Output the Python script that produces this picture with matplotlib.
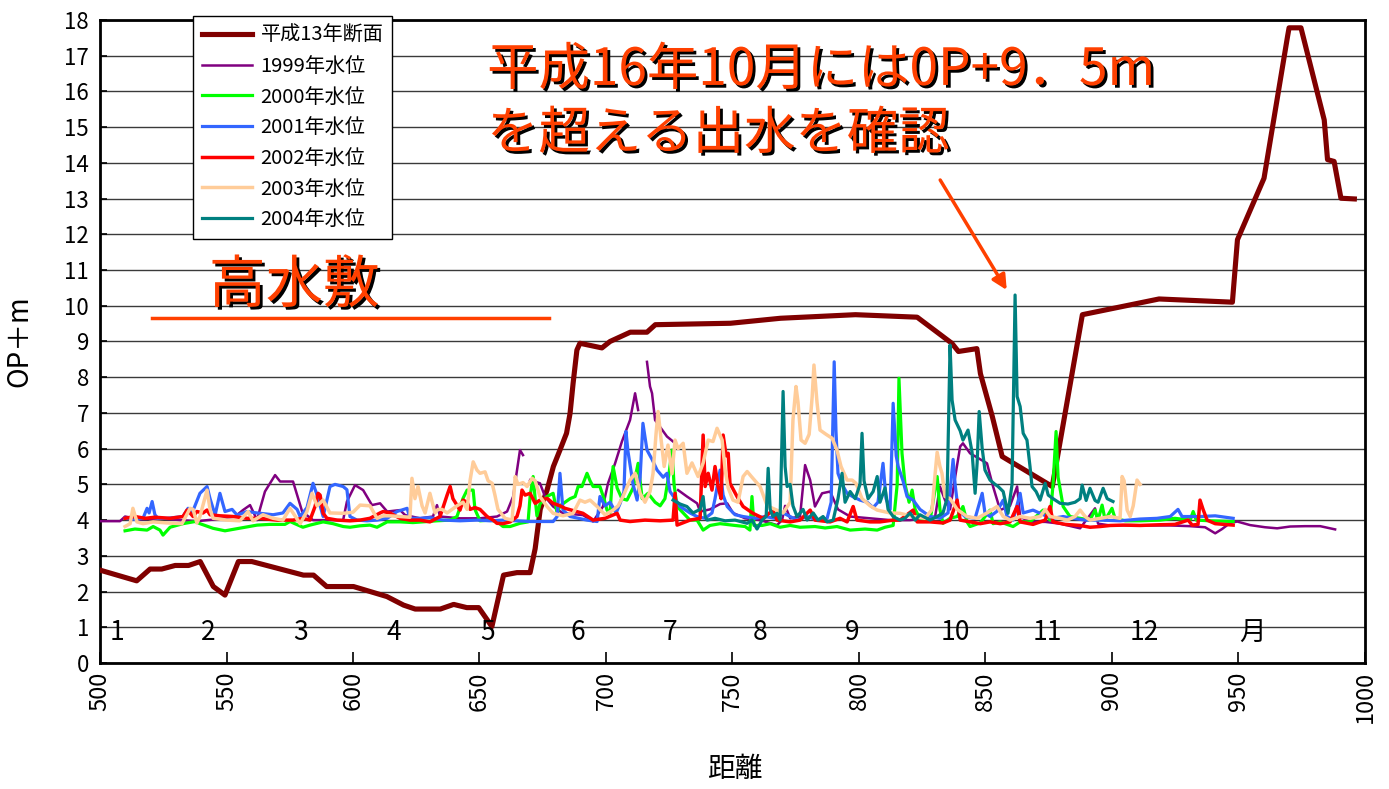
import numpy as np
import matplotlib
matplotlib.use('Agg')
import matplotlib.pyplot as plt
import matplotlib.patheffects as pe

plt.rcParams['font.family'] = ['Noto Sans CJK JP', 'DejaVu Sans']

nan = np.nan

# 平成13年断面 (distance, OP+m)
section = [(500.0, 2.6), (514.5, 2.3), (519.8, 2.63), (524.4, 2.63), (529.7, 2.73), (535.0, 2.73),
           (539.6, 2.84), (544.8, 2.14), (549.4, 1.9), (554.7, 2.84), (560.0, 2.84), (580.4, 2.46),
           (584.4, 2.46), (589.6, 2.14), (600.2, 2.14), (613.4, 1.86), (620.0, 1.62), (624.6, 1.51),
           (634.5, 1.51), (639.8, 1.64), (645.0, 1.55), (649.7, 1.55), (654.9, 1.02), (659.5, 2.46),
           (664.8, 2.53), (670.0, 2.53), (672.0, 3.2), (674.0, 4.3), (676.7, 4.84), (679.2, 5.5),
           (681.8, 5.96), (684.4, 6.43), (685.8, 6.99), (687.0, 7.83), (688.5, 8.76), (689.7, 8.95),
           (698.4, 8.82), (701.6, 9.0), (709.6, 9.26), (716.2, 9.26), (719.5, 9.47), (749.2, 9.51),
           (769.0, 9.65), (798.6, 9.75), (823.0, 9.68), (836.7, 8.95), (839.3, 8.72), (846.6, 8.8),
           (848.0, 8.1), (852.7, 6.9), (856.6, 5.78), (873.1, 5.08), (876.4, 4.94), (888.3, 9.75),
           (918.6, 10.19), (947.6, 10.1), (949.6, 11.85), (960.1, 13.57), (969.4, 17.54), (970.0, 17.78),
           (974.7, 17.78), (983.9, 15.2), (985.2, 14.09), (987.8, 14.04), (990.5, 13.01), (995.8, 12.99)]

wl_1999 = [(500.0, 3.97), (507.9, 3.97), (509.9, 4.1), (515.8, 4.02), (523.7, 4.05), (531.6, 4.0),
           (538.3, 3.97), (545.5, 4.02), (553.4, 4.1), (556.5, 4.28), (559.3, 4.42), (562.1, 4.0),
           (563.2, 4.3), (565.2, 4.8), (569.2, 5.26), (571.2, 5.08), (576.3, 5.08), (579.9, 4.24),
           (584.2, 4.0), (590.9, 4.0), (596.1, 4.0), (597.6, 4.52), (600.8, 4.98), (604.0, 4.84),
           (607.5, 4.42), (610.7, 4.47), (613.5, 4.24), (618.6, 4.28), (620.6, 4.14), (626.5, 4.05),
           (631.6, 4.1), (633.2, 4.42), (634.4, 4.1), (642.3, 4.05), (650.2, 4.05), (656.9, 4.1),
           (660.9, 4.24), (663.3, 4.66), (666.0, 5.96), (667.2, 5.82), (nan, nan),
           (670.0, 5.12), (673.9, 5.03), (675.9, 4.66), (679.1, 4.38), (683.0, 4.19), (690.9, 4.14),
           (694.9, 3.96), (698.8, 4.38), (700.8, 5.03), (703.6, 5.59), (706.3, 6.2), (709.5, 6.8),
           (711.5, 7.55), (712.7, 7.08), (nan, nan),
           (716.2, 8.43), (717.4, 7.74), (718.2, 7.55), (719.4, 6.8), (724.1, 6.34), (726.5, 6.2), (nan, nan),
           (728.5, 4.84), (732.0, 4.66), (736.0, 4.47), (737.2, 4.24), (741.1, 4.3), (745.1, 4.45),
           (747.9, 4.47), (750.2, 4.2), (755.0, 4.05), (760.9, 4.0), (767.6, 3.86), (769.6, 4.0),
           (770.8, 4.4), (772.8, 4.05), (776.7, 4.1), (778.7, 5.54), (780.7, 5.12), (782.6, 4.38),
           (785.4, 4.75), (788.6, 4.8), (791.7, 4.3), (796.5, 4.1), (804.4, 4.05), (812.3, 4.0),
           (820.2, 4.0), (826.1, 4.05), (830.1, 4.1), (832.0, 4.94), (834.0, 4.56), (836.0, 4.3),
           (838.0, 5.2), (840.0, 6.06), (841.1, 6.15), (843.9, 5.87), (850.6, 5.59), (853.0, 4.94),
           (855.8, 4.28), (859.7, 4.4), (862.5, 4.94), (863.7, 4.1), (867.6, 3.95), (873.6, 3.95),
           (879.5, 3.9), (887.4, 3.77), (893.3, 4.33), (894.5, 3.9), (899.3, 3.85), (907.2, 3.86),
           (915.1, 3.85), (923.0, 3.85), (930.9, 3.83), (936.8, 3.8), (940.8, 3.63), (943.5, 3.75),
           (946.7, 3.92), (949.5, 3.96), (954.6, 3.86), (960.5, 3.8), (965.3, 3.77), (970.4, 3.82),
           (976.3, 3.83), (982.3, 3.83), (988.2, 3.74)]

wl_2000 = [(509.9, 3.7), (513.8, 3.75), (518.6, 3.72), (521.0, 3.82), (523.7, 3.72), (524.9, 3.58),
           (527.7, 3.8), (532.8, 3.9), (537.6, 3.96), (539.5, 3.9), (544.7, 3.77), (549.4, 3.7),
           (553.4, 3.75), (562.1, 3.86), (567.2, 3.88), (573.1, 3.88), (575.1, 3.96), (580.2, 3.8),
           (583.0, 3.86), (588.2, 3.95), (592.1, 3.9), (596.1, 3.82), (598.8, 3.8), (602.8, 3.84),
           (606.7, 3.86), (609.5, 3.8), (613.5, 3.95), (618.6, 3.95), (623.7, 3.93), (633.2, 3.98),
           (638.4, 4.0), (641.1, 4.1), (643.5, 4.61), (645.1, 4.84), (647.5, 4.84), (648.2, 4.3),
           (650.2, 3.98), (654.2, 4.0), (656.9, 3.96), (659.3, 3.82), (662.1, 3.82), (666.0, 3.91),
           (669.2, 3.95), (670.0, 4.66), (671.2, 5.22), (672.0, 4.6), (672.7, 4.12), (673.9, 4.45),
           (676.7, 4.66), (679.1, 4.75), (680.7, 4.2), (681.8, 4.4), (685.8, 4.6), (687.8, 4.66),
           (689.0, 4.94), (690.5, 4.94), (692.5, 5.31), (693.7, 5.1), (694.9, 4.94), (697.6, 4.94),
           (699.2, 4.6), (700.4, 4.28), (701.6, 4.2), (702.8, 5.5), (704.4, 4.9), (706.3, 4.6),
           (708.3, 4.56), (710.7, 4.9), (712.7, 5.59), (714.3, 4.6), (716.6, 4.75), (719.4, 4.5),
           (721.4, 4.4), (723.3, 4.6), (724.9, 5.3), (726.1, 5.96), (726.9, 5.0), (728.1, 4.38),
           (730.5, 4.2), (733.2, 4.0), (736.0, 4.0), (738.4, 3.72), (741.1, 3.85), (745.1, 3.9),
           (751.0, 3.85), (755.0, 3.82), (756.9, 3.72), (757.7, 4.66), (758.5, 3.85), (761.7, 3.85),
           (764.9, 3.9), (768.8, 3.8), (772.8, 3.85), (776.7, 3.8), (782.6, 3.82), (786.6, 3.78),
           (791.3, 3.82), (796.5, 3.72), (802.4, 3.75), (807.2, 3.72), (810.3, 3.8), (813.5, 3.85),
           (815.1, 5.0), (815.8, 7.97), (817.0, 5.87), (818.2, 5.0), (819.8, 4.5), (821.0, 4.84),
           (822.2, 4.3), (824.1, 4.05), (828.1, 4.0), (830.9, 5.22), (832.0, 4.3), (833.2, 3.91),
           (836.0, 4.05), (838.8, 4.1), (841.1, 4.38), (842.7, 3.95), (843.9, 3.82), (847.9, 3.92),
           (851.8, 4.28), (853.0, 3.9), (855.8, 3.95), (860.9, 3.82), (863.7, 3.95), (867.6, 3.95),
           (872.8, 4.28), (875.5, 4.0), (876.7, 5.0), (877.9, 6.48), (878.7, 5.2), (880.7, 4.38),
           (883.4, 4.1), (887.4, 4.05), (891.3, 4.0), (893.3, 4.28), (894.5, 4.0), (896.1, 4.42),
           (897.3, 4.0), (900.0, 4.33), (901.2, 4.05), (905.2, 3.98), (911.1, 3.98), (919.0, 4.0),
           (924.9, 4.05), (930.9, 4.0), (932.1, 4.24), (933.3, 4.0), (938.8, 3.98), (947.9, 3.96)]

wl_2001 = [(509.9, 4.05), (513.8, 4.02), (517.0, 4.05), (518.6, 4.33), (519.4, 4.2), (520.6, 4.52),
           (521.7, 4.15), (522.9, 4.05), (526.5, 4.05), (532.8, 4.1), (534.8, 4.33), (536.4, 4.2),
           (539.5, 4.75), (542.3, 4.94), (543.5, 4.6), (545.5, 4.14), (547.4, 4.75), (549.4, 4.24),
           (552.2, 4.3), (554.2, 4.14), (558.1, 4.24), (562.1, 4.2), (568.4, 4.15), (572.3, 4.2),
           (575.1, 4.47), (577.9, 4.3), (579.1, 4.1), (581.8, 4.35), (584.2, 5.03), (585.8, 4.7),
           (588.2, 4.1), (590.9, 4.94), (592.9, 5.0), (596.1, 4.94), (597.6, 4.85), (598.8, 4.1),
           (601.6, 4.0), (605.5, 3.98), (609.5, 4.0), (613.5, 4.05), (617.4, 4.24), (621.4, 4.33),
           (622.5, 4.05), (626.5, 4.05), (630.4, 4.07), (635.6, 4.0), (642.3, 3.98), (649.0, 4.0),
           (654.2, 3.98), (659.3, 4.0), (664.8, 3.98), (670.0, 3.96), (673.9, 3.96), (679.1, 3.96),
           (680.7, 4.1), (681.8, 5.31), (682.6, 4.6), (683.0, 4.28), (685.8, 4.1), (692.5, 4.0),
           (696.5, 3.96), (697.6, 4.66), (699.6, 4.4), (701.6, 4.5), (704.0, 4.2), (705.6, 4.47),
           (707.1, 4.8), (707.9, 6.48), (708.7, 5.92), (710.7, 5.0), (712.3, 4.56), (713.5, 5.2),
           (714.6, 6.71), (716.2, 5.96), (718.2, 5.7), (720.2, 5.4), (722.6, 5.2), (724.1, 5.31),
           (725.3, 4.8), (727.3, 4.6), (729.3, 4.38), (733.2, 4.2), (736.0, 4.1), (739.2, 4.05),
           (741.9, 4.2), (743.1, 4.6), (745.1, 5.4), (746.3, 4.7), (747.9, 4.38), (751.0, 4.15),
           (754.2, 4.1), (758.9, 4.05), (762.9, 4.1), (766.8, 4.05), (770.0, 4.2), (772.8, 4.1),
           (775.5, 4.0), (779.5, 4.1), (783.4, 4.0), (787.4, 4.05), (789.0, 4.5), (790.2, 8.43),
           (790.9, 6.5), (791.7, 5.31), (793.3, 5.0), (795.3, 4.75), (797.7, 4.65), (800.4, 4.56),
           (803.2, 4.5), (805.6, 4.35), (807.5, 4.5), (809.5, 5.59), (810.7, 4.6), (812.3, 4.3),
           (813.5, 7.27), (814.7, 5.8), (815.5, 5.5), (817.4, 5.1), (819.0, 4.66), (821.4, 4.56),
           (824.1, 4.3), (828.1, 4.1), (832.0, 4.05), (835.2, 4.2), (837.2, 5.7), (838.0, 5.0),
           (839.2, 4.28), (841.9, 4.1), (845.9, 4.05), (848.7, 4.75), (849.8, 4.2), (851.8, 4.1),
           (854.6, 4.25), (857.0, 4.56), (858.5, 4.1), (860.9, 4.0), (863.7, 4.75), (864.9, 4.2),
           (868.8, 4.28), (872.8, 4.15), (876.7, 4.05), (880.7, 4.1), (884.6, 4.05), (889.4, 4.0),
           (895.3, 4.0), (903.2, 3.98), (911.1, 4.03), (917.8, 4.05), (923.0, 4.1), (926.1, 4.3),
           (927.7, 4.1), (934.8, 4.1), (940.8, 4.12), (947.9, 4.05)]

wl_2002 = [(509.9, 4.05), (513.8, 4.1), (517.8, 4.05), (521.7, 4.08), (527.7, 4.05), (532.8, 4.1),
           (534.4, 4.28), (535.6, 4.2), (536.8, 4.1), (538.3, 4.24), (540.7, 4.2), (542.3, 4.28),
           (543.5, 4.15), (547.4, 4.12), (552.6, 4.1), (558.1, 4.05), (563.2, 4.05), (570.0, 4.0),
           (576.3, 4.0), (580.2, 4.05), (583.0, 4.0), (585.0, 4.38), (586.2, 4.75), (587.0, 4.7),
           (588.2, 4.19), (589.7, 4.05), (593.7, 4.0), (598.8, 3.98), (602.8, 4.0), (606.7, 4.05),
           (610.7, 4.2), (611.9, 4.24), (614.6, 4.2), (618.6, 4.05), (622.5, 4.0), (626.5, 4.0),
           (630.4, 3.95), (634.4, 4.1), (637.2, 4.7), (638.4, 4.94), (639.5, 4.6), (642.3, 4.28),
           (643.5, 4.56), (645.1, 4.5), (646.3, 4.3), (648.2, 4.35), (650.2, 4.3), (653.0, 4.1),
           (655.4, 4.0), (656.9, 3.91), (659.3, 3.9), (662.1, 3.95), (664.8, 4.1), (666.0, 4.4),
           (666.8, 4.84), (668.0, 4.7), (670.0, 4.75), (672.0, 4.47), (673.9, 4.56), (676.7, 4.61),
           (679.1, 4.47), (681.8, 4.4), (683.8, 4.33), (687.8, 4.25), (690.9, 4.19), (694.9, 4.0),
           (699.6, 4.05), (704.4, 4.19), (705.6, 4.0), (709.5, 3.96), (715.4, 4.0), (721.4, 3.98),
           (726.5, 4.0), (727.3, 4.75), (728.1, 3.86), (733.2, 4.0), (737.2, 4.05), (738.4, 6.38),
           (739.2, 4.94), (740.4, 5.31), (741.9, 4.84), (743.1, 5.5), (744.3, 4.94), (745.5, 4.6),
           (746.3, 6.38), (747.5, 5.8), (748.3, 5.87), (749.0, 5.03), (751.8, 4.66), (754.2, 4.38),
           (758.1, 4.19), (762.1, 4.05), (766.0, 4.28), (767.6, 4.0), (772.8, 3.95), (776.7, 4.0),
           (780.7, 4.28), (782.6, 4.0), (788.6, 3.95), (792.5, 4.05), (795.3, 3.95), (797.7, 4.38),
           (799.2, 4.0), (804.4, 3.95), (808.3, 3.95), (813.5, 4.0), (816.2, 4.0), (821.4, 4.28),
           (823.0, 3.95), (828.1, 3.95), (833.2, 3.92), (836.0, 4.0), (838.8, 4.56), (840.0, 4.0),
           (843.9, 3.95), (847.9, 3.9), (851.8, 3.95), (855.8, 3.9), (859.7, 3.95), (862.5, 4.38),
           (863.7, 3.95), (868.8, 3.88), (873.6, 4.0), (875.5, 4.38), (876.7, 3.95), (881.5, 3.88),
           (887.4, 3.85), (891.3, 3.8), (895.3, 3.82), (899.3, 3.85), (904.4, 3.86), (911.1, 3.85),
           (919.0, 3.87), (924.9, 3.88), (930.1, 4.0), (931.7, 3.86), (934.0, 3.88), (934.8, 4.56),
           (936.0, 4.3), (937.6, 4.0), (940.8, 3.9), (947.9, 3.86)]

wl_2003 = [(509.9, 3.82), (511.9, 3.9), (513.0, 4.33), (514.6, 3.95), (517.0, 3.9), (521.0, 3.95),
           (526.5, 3.92), (532.4, 3.9), (535.6, 4.33), (536.8, 4.3), (538.3, 3.92), (539.5, 4.1),
           (542.3, 4.84), (543.5, 4.3), (544.7, 4.05), (550.2, 4.0), (555.3, 3.98), (558.5, 4.24),
           (560.5, 3.98), (564.4, 4.15), (568.4, 4.05), (572.3, 4.0), (575.1, 4.33), (579.1, 3.9),
           (581.8, 4.24), (583.8, 4.75), (585.8, 4.4), (588.2, 4.56), (590.9, 4.2), (596.1, 4.19),
           (600.0, 4.22), (602.8, 4.42), (606.7, 4.4), (609.5, 4.05), (611.9, 4.12), (614.6, 4.12),
           (618.6, 4.1), (622.5, 4.08), (623.3, 5.17), (624.5, 4.6), (625.7, 4.94), (627.3, 4.4),
           (628.5, 4.2), (630.4, 4.75), (632.4, 4.2), (633.6, 4.3), (635.2, 4.3), (637.2, 4.2),
           (641.1, 4.4), (643.5, 4.5), (645.1, 4.3), (646.3, 5.12), (647.5, 5.63), (649.0, 5.4),
           (650.2, 5.31), (652.2, 5.35), (653.4, 5.1), (655.0, 5.03), (656.1, 4.7), (657.3, 4.3),
           (660.1, 4.05), (662.9, 4.0), (664.1, 5.22), (665.2, 5.0), (667.2, 5.05), (668.8, 4.94),
           (670.8, 5.17), (672.0, 5.1), (673.9, 4.66), (676.7, 4.38), (679.1, 4.19), (683.0, 4.12),
           (687.0, 4.19), (689.7, 4.56), (691.7, 4.5), (693.7, 4.56), (696.5, 4.38), (699.6, 4.15),
           (702.8, 4.28), (704.8, 4.4), (706.7, 4.66), (709.5, 5.12), (711.5, 5.31), (712.7, 5.0),
           (713.5, 4.75), (715.4, 4.5), (717.4, 4.8), (718.6, 5.31), (719.8, 6.43), (720.6, 7.04),
           (721.8, 6.24), (723.0, 5.5), (724.5, 6.1), (726.1, 5.3), (727.3, 6.24), (728.5, 6.0),
           (730.5, 6.15), (732.0, 5.31), (734.0, 5.6), (736.4, 5.22), (738.4, 5.6), (740.4, 6.24),
           (742.3, 6.2), (743.9, 6.57), (745.9, 6.24), (747.1, 5.4), (748.3, 4.9), (750.2, 4.56),
           (752.2, 4.5), (754.2, 5.22), (755.8, 5.36), (757.7, 5.2), (760.9, 4.94), (763.7, 4.4),
           (766.8, 4.3), (770.0, 4.2), (772.8, 4.5), (773.9, 6.8), (775.1, 7.74), (775.9, 7.3),
           (777.1, 6.24), (778.7, 6.15), (780.3, 6.4), (781.5, 7.46), (782.2, 8.34), (783.4, 7.3),
           (784.6, 6.52), (787.0, 6.4), (789.4, 6.29), (791.3, 5.96), (792.9, 5.5), (795.3, 5.12),
           (797.3, 5.12), (798.8, 5.03), (801.2, 4.6), (804.4, 4.4), (807.2, 4.28), (812.3, 4.2),
           (816.2, 4.19), (821.4, 4.1), (826.1, 4.05), (828.9, 4.3), (830.1, 5.3), (830.9, 5.9),
           (832.0, 5.5), (832.8, 5.31), (834.0, 4.66), (836.0, 4.6), (838.8, 4.3), (842.7, 4.1),
           (846.7, 4.05), (850.6, 4.2), (854.6, 4.38), (857.0, 4.1), (859.7, 4.0), (863.7, 4.1),
           (867.6, 4.05), (871.6, 4.1), (873.6, 4.3), (875.5, 4.1), (879.5, 4.05), (882.3, 4.0),
           (885.4, 4.1), (887.4, 4.28), (889.4, 4.1), (891.3, 4.0), (895.3, 4.05), (899.3, 4.1),
           (903.2, 4.05), (904.0, 5.22), (904.8, 5.1), (906.0, 4.28), (907.2, 4.1), (908.4, 4.4),
           (909.9, 5.12), (911.1, 5.0)]

wl_2004 = [(726.5, 4.56), (729.3, 4.45), (732.0, 4.38), (734.4, 4.2), (737.2, 4.3), (738.4, 4.66),
           (739.2, 4.1), (740.0, 4.0), (743.1, 4.05), (747.1, 3.98), (751.0, 4.0), (755.8, 3.91),
           (757.7, 4.0), (759.7, 3.75), (761.7, 4.0), (763.3, 4.1), (764.1, 5.45), (764.9, 4.3),
           (766.0, 4.1), (767.6, 4.19), (768.8, 4.0), (770.0, 7.6), (770.8, 5.5), (771.6, 4.94),
           (772.8, 5.0), (773.9, 4.4), (775.5, 4.1), (777.9, 4.3), (779.5, 4.0), (781.9, 4.2),
           (783.8, 4.0), (785.8, 4.1), (787.4, 3.95), (789.8, 4.0), (791.7, 4.6), (793.3, 5.31),
           (794.5, 4.5), (796.5, 4.8), (798.5, 4.6), (800.4, 5.0), (801.2, 6.43), (802.0, 5.1),
           (803.6, 4.6), (805.6, 4.8), (807.2, 5.22), (808.3, 4.5), (810.3, 4.9), (811.5, 4.3),
           (813.5, 4.1), (816.2, 4.0), (818.2, 4.05), (820.2, 4.2), (822.2, 4.0), (824.1, 4.15),
           (828.1, 4.0), (830.9, 4.1), (833.2, 4.2), (834.8, 4.6), (836.0, 8.9), (836.8, 7.36),
           (838.0, 6.8), (840.0, 6.5), (841.1, 6.24), (843.1, 6.52), (844.7, 5.9), (845.9, 4.75),
           (846.7, 5.6), (847.5, 7.04), (848.7, 6.0), (849.8, 5.4), (851.8, 5.12), (853.8, 5.0),
           (855.0, 4.94), (857.0, 4.8), (858.9, 4.19), (860.5, 5.0), (861.7, 10.3), (862.5, 7.46),
           (863.7, 7.18), (864.9, 6.43), (866.4, 6.24), (867.6, 5.5), (868.4, 4.94), (870.0, 4.8),
           (871.6, 4.56), (873.6, 5.03), (874.8, 4.7), (876.7, 4.6), (879.5, 4.47), (882.6, 4.45),
           (885.4, 4.5), (887.4, 4.6), (888.2, 4.98), (889.8, 4.55), (891.3, 4.89), (893.3, 4.55),
           (894.5, 4.5), (896.5, 4.89), (898.1, 4.6), (900.4, 4.52)]

legend_labels = ['平成13年断面', '1999年水位', '2000年水位', '2001年水位',
                 '2002年水位', '2003年水位', '2004年水位']
colors = ['#800000', '#800080', '#00FF00', '#3366FF', '#FF0000', '#FFCC99', '#008080']
widths = [3.7, 1.8, 2.3, 2.3, 2.5, 2.5, 2.3]

months = ['1', '2', '3', '4', '5', '6', '7', '8', '9', '10', '11', '12', '月']
month_x = [506.7, 542.7, 579.1, 616.2, 653.0, 689.0, 725.3, 760.9, 797.3, 838.0, 874.4, 912.7, 955.4]
month_y = 0.84

note_text = '平成16年10月には0P+9．5m\nを超える出水を確認'
note_pos = (653.0, 15.7)
hsj_text = '高水敷'
hsj_pos = (543.0, 10.55)
hsj_line_x = [520.6, 677.5]
hsj_line_y = [9.66, 9.66]
arrow_start = (832.1, 13.52)
arrow_end = (858.4, 10.44)
red_note = '#FF4000'

fig = plt.figure(figsize=(13.89, 7.89), dpi=100)
ax = fig.add_axes([0.072, 0.1597, 0.9107, 0.815])

all_series = [section, wl_1999, wl_2000, wl_2001, wl_2002, wl_2003, wl_2004]
for i, pts in enumerate(all_series):
    arr = np.array(pts, dtype=float)
    ax.plot(arr[:, 0], arr[:, 1], color=colors[i], lw=widths[i], label=legend_labels[i],
            zorder=3 + i)

ax.set_xlim(500, 1000)
ax.set_ylim(0, 18)
ax.set_xticks(np.arange(500, 1001, 50))
ax.set_yticks(np.arange(0, 19, 1))
ax.yaxis.grid(True, color='#3a3a3a', lw=1.0)
ax.set_axisbelow(True)
ax.tick_params(axis='x', direction='in', length=8, width=1.2, labelrotation=90, labelsize=17, pad=6)
ax.tick_params(axis='y', direction='in', length=5, width=1.2, labelsize=16, pad=8)
for s in ax.spines.values():
    s.set_linewidth(2)
    s.set_color('black')

ax.set_ylabel('OP＋m', fontsize=20)
ax.yaxis.set_label_coords(-0.052, 0.5)
ax.set_xlabel('距離', fontsize=20)
ax.xaxis.set_label_coords(0.502, -0.142)

for m, mx in zip(months, month_x):
    ax.text(mx, month_y, m, ha='center', va='center', fontsize=19, zorder=12)

shadow = [pe.SimplePatchShadow(offset=(2, -2), shadow_rgbFace='black', alpha=1.0), pe.Normal()]
ax.text(note_pos[0], note_pos[1], note_text, fontsize=37, color=red_note, ha='left', va='center',
        linespacing=1.25, path_effects=shadow, zorder=15)
ax.text(hsj_pos[0], hsj_pos[1], hsj_text, fontsize=41, color=red_note, ha='left', va='center',
        path_effects=shadow, zorder=15)
ax.plot(hsj_line_x, hsj_line_y, color=red_note, lw=2.5, zorder=15)
ax.annotate('', xy=arrow_end, xytext=arrow_start,
            arrowprops=dict(arrowstyle='-|>', color=red_note, lw=2.5, mutation_scale=22,
                            shrinkA=0, shrinkB=0), zorder=15)

leg = ax.legend(loc='upper left', bbox_to_anchor=(0.0735, 1.006), fontsize=14.5,
                frameon=True, fancybox=False, edgecolor='black', framealpha=1.0,
                handlelength=2.5, handletextpad=0.4, labelspacing=0.48, borderpad=0.45,
                borderaxespad=0)
leg.get_frame().set_linewidth(1.0)
leg.set_zorder(20)

fig.savefig('out.png', dpi=100)
